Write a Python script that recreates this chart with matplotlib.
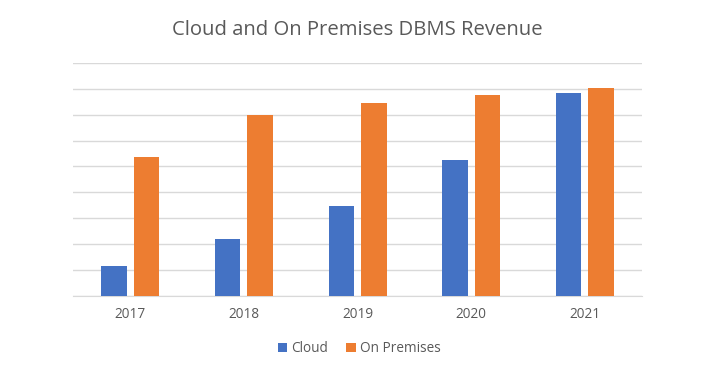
import matplotlib

matplotlib.use("Agg")
import matplotlib.pyplot as plt
import numpy as np

plt.rcParams["font.family"] = ["Open Sans", "DejaVu Sans"]

# values, in gridline units (no y labels on the original)
years = ["2017", "2018", "2019", "2020", "2021"]
cloud = [1.16, 2.19, 3.46, 5.24, 7.83]
on_premises = [5.38, 7.0, 7.44, 7.75, 8.03]

BLUE = "#4472C4"
ORANGE = "#ED7D31"
TEXT = "#595959"
GRID = "#D9D9D9"

fig = plt.figure(figsize=(7.07, 3.65), dpi=100)
ax = fig.add_axes([0.1037, 0.189, 0.804, 0.639])

x = np.arange(len(years))
w = 0.224
off = 0.143
ax.bar(x - off, cloud, w, color=BLUE, label="Cloud", zorder=3)
ax.bar(x + off, on_premises, w, color=ORANGE, label="On Premises", zorder=3)

ax.set_xlim(-0.5, len(years) - 0.5)
ax.set_ylim(0, 9)
ax.set_yticks(np.arange(0, 10))
ax.yaxis.grid(True, color=GRID, linewidth=1.0, zorder=0)
ax.tick_params(axis="y", left=False, labelleft=False)
ax.set_xticks(x)
ax.set_xticklabels(years, color=TEXT, fontsize=9.8)
ax.tick_params(axis="x", length=0, pad=8)
for side in ("top", "right", "left"):
    ax.spines[side].set_visible(False)
ax.spines["bottom"].set_color(GRID)

fig.text(0.505, 0.918, "Cloud and On Premises DBMS Revenue", ha="center",
         va="center", fontsize=14.6, color=TEXT)

fig.legend(loc="center", bbox_to_anchor=(0.508, 0.044), ncol=2, frameon=False,
           fontsize=9.8, labelcolor=TEXT, handlelength=0.7, handleheight=0.7,
           handletextpad=0.3, columnspacing=1.3)

fig.savefig("out.png", dpi=100)
